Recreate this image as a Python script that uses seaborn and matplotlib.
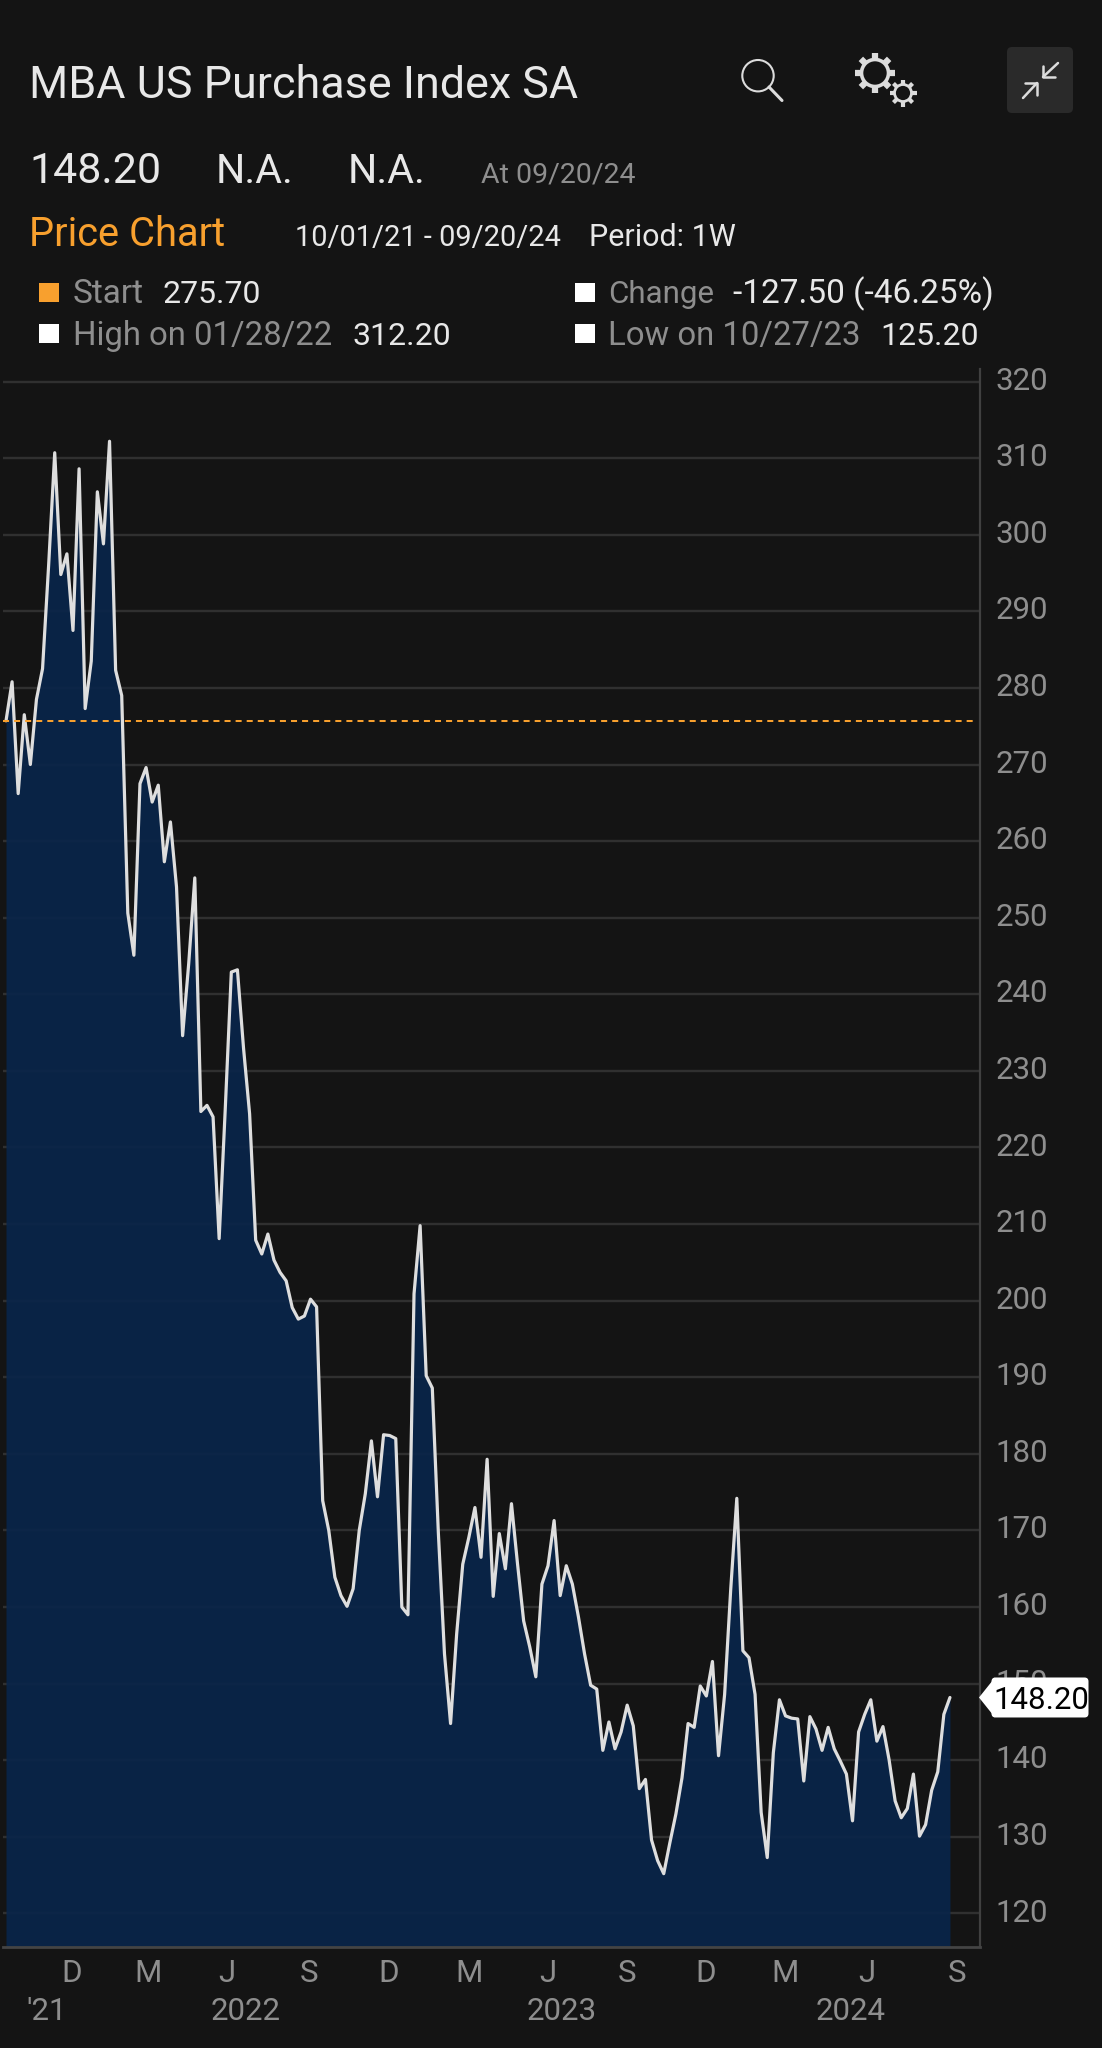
import numpy as np
import pandas as pd
import matplotlib
matplotlib.use('Agg')
import matplotlib.pyplot as plt
import matplotlib.patches as mpatches
import matplotlib.transforms as mtrans
import seaborn as sns

# weekly readings, 10/01/21 - 09/20/24
start_date = '2021-10-01'
index_values = [
    275.7, 280.8, 266.2, 276.5, 270.0, 278.5, 282.5, 296.0, 310.7, 294.8,
    297.5, 287.5, 308.6, 277.3, 283.5, 305.6, 298.8, 312.2, 282.3, 279.0,
    250.6, 245.1, 267.5, 269.6, 265.1, 267.3, 257.3, 262.5, 254.0, 234.6,
    244.0, 255.2, 224.7, 225.5, 224.0, 208.1, 225.0, 242.9, 243.2, 233.0,
    224.4, 207.9, 206.1, 208.7, 205.3, 203.7, 202.6, 199.1, 197.6, 198.0,
    200.2, 199.2, 173.9, 170.0, 163.9, 161.5, 160.1, 162.4, 170.0, 174.8,
    181.7, 174.4, 182.5, 182.4, 182.0, 160.0, 159.0, 200.9, 209.8, 190.2,
    188.6, 169.6, 153.9, 144.8, 156.5, 165.6, 169.1, 173.0, 166.5, 179.3,
    161.4, 169.6, 165.0, 173.5, 165.6, 158.2, 154.8, 150.9, 163.0, 165.4,
    171.3, 161.5, 165.4, 163.0, 158.7, 153.9, 149.8, 149.3, 141.3, 145.0,
    141.5, 143.7, 147.2, 144.5, 136.3, 137.5, 129.6, 126.9, 125.2, 129.2,
    133.0, 137.7, 144.8, 144.3, 149.7, 148.4, 152.9, 140.6, 148.6, 162.3,
    174.2, 154.3, 153.4, 148.6, 133.2, 127.3, 141.0, 147.9, 145.8, 145.5,
    145.4, 137.3, 145.7, 144.1, 141.3, 144.3, 141.5, 139.9, 138.2, 132.1,
    143.7, 146.0, 147.9, 142.5, 144.4, 140.1, 134.7, 132.5, 133.7, 138.2,
    130.1, 131.6, 136.1, 138.5, 146.0, 148.2,
]
start_value = 275.7

y_ticks = list(range(120, 330, 10))
month_labels = ['D', 'M', 'J', 'S', 'D', 'M', 'J', 'S', 'D', 'M', 'J', 'S']
month_dates = ['2021-12-16', '2022-03-13', '2022-06-12', '2022-09-14',
               '2022-12-15', '2023-03-17', '2023-06-16', '2023-09-15',
               '2023-12-14', '2024-03-14', '2024-06-17', '2024-09-28']
year_labels = ["'21", '2022', '2023', '2024']
year_dates = ['2021-11-17', '2022-07-04', '2023-07-02', '2024-05-29']

BG = '#141414'
GREY = '#8e8e8e'
WHITE = '#e8e8e8'
ORANGE = '#f8a02e'
W, H = 1102, 2048

sns.set_theme(style='dark', rc={'axes.facecolor': BG, 'figure.facecolor': BG})
plt.rcParams['font.family'] = ['Roboto', 'DejaVu Sans']

dates = pd.date_range(start_date, periods=len(index_values), freq='W-FRI')
df = pd.DataFrame({'date': dates, 'value': index_values})

fig = plt.figure(figsize=(W / 100, H / 100), dpi=100, facecolor=BG)
left, right, top, bottom = 3, 980, 369, 1947
ax = fig.add_axes([left / W, 1 - bottom / H, (right - left) / W, (bottom - top) / H])

# axis limits worked out from the pixel spacing of the weekly points
px_per_day = 6.09 / 7
t0 = dates[0]
ax.set_xlim(t0 - pd.Timedelta(days=3 / px_per_day), t0 + pd.Timedelta(days=974 / px_per_day))
px_per_unit = 7.66
ax.set_ylim(320 - (bottom - 381.5) / px_per_unit, 320 + (381.5 - top) / px_per_unit)

ax.grid(axis='y', color='#303030', linewidth=1.7, zorder=1)
ax.set_axisbelow(True)
ax.fill_between(df['date'], df['value'], ax.get_ylim()[0], color='#09254a', alpha=0.92, linewidth=0, zorder=2)
sns.lineplot(data=df, x='date', y='value', ax=ax, color='#dedede', linewidth=2.3, zorder=3)
ax.axhline(start_value, xmax=0.993, color=ORANGE, linewidth=1.45, linestyle=(0, (3, 2.5)), zorder=4)

ax.set_xlabel('')
ax.set_ylabel('')
ax.yaxis.tick_right()
ax.set_yticks(y_ticks)
ax.tick_params(axis='y', length=0, pad=11, labelsize=22.5, labelcolor=GREY)
ax.set_xticks(pd.to_datetime(month_dates))
ax.set_xticklabels(month_labels)
ax.set_xticks(pd.to_datetime(year_dates), minor=True)
ax.set_xticklabels(year_labels, minor=True)
ax.tick_params(axis='x', which='major', length=0, pad=9, labelsize=22.5, labelcolor=GREY)
ax.tick_params(axis='x', which='minor', length=0, pad=36, labelsize=22.5, labelcolor=GREY)

# y labels sit a little above their gridlines
nudge = mtrans.ScaledTranslation(0, 3.5 / 100, fig.dpi_scale_trans)
for t in ax.get_yticklabels():
    t.set_transform(t.get_transform() + nudge)

for s in ['top', 'left']:
    ax.spines[s].set_visible(False)
ax.spines['right'].set_color('#404040')
ax.spines['right'].set_linewidth(1.6)
ax.spines['bottom'].set_color('#444444')
ax.spines['bottom'].set_linewidth(2)

# header and icons sit on a pixel-coordinate overlay
ui = fig.add_axes([0, 0, 1, 1], facecolor='none')
ui.set_xlim(0, W)
ui.set_ylim(H, 0)
ui.axis('off')


def label(x, y, s, size, color=WHITE):
    ui.text(x, y, s, fontsize=size, color=color, ha='left', va='baseline')


label(29, 98, 'MBA US Purchase Index SA', 32.3)
label(29, 183, '148.20', 31)
label(216, 183, 'N.A.', 29.5)
label(348, 183, 'N.A.', 29.5)
label(481, 183, 'At 09/20/24', 20.5, GREY)
label(29, 246, 'Price Chart', 28.7, ORANGE)
label(295, 246, '10/01/21 - 09/20/24', 20.9)
label(589, 246, 'Period: 1W', 22)

label(73, 303, 'Start', 24, GREY)
label(163, 303, '275.70', 23)
label(73, 345, 'High on 01/28/22', 23.7, GREY)
label(352, 345, '312.20', 23)
label(608, 303, 'Change', 22.5, GREY)
label(733, 303, '-127.50 (-46.25%)', 24)
label(608, 345, 'Low on 10/27/23', 23.7, GREY)
label(880, 345, '125.20', 23)

for x, y, c in [(39, 283, ORANGE), (39, 324, 'white'), (575, 283, 'white'), (575, 324, 'white')]:
    ui.add_patch(mpatches.Rectangle((x, y), 20, 19, color=c, linewidth=0))

# search icon
ICON = '#dcdcdc'
ui.add_patch(mpatches.Circle((758, 75.7), 15.7, fill=False, edgecolor=ICON, linewidth=1.5))
ui.plot([769, 782], [87, 100.5], color=ICON, linewidth=2.2, solid_capstyle='round')

# gears
for cx, cy, r, tooth, lw, tlw in [(875, 73, 13.5, 20, 2.6, 4.5), (903, 93, 8.5, 13.5, 2.0, 3)]:
    ui.add_patch(mpatches.Circle((cx, cy), r, fill=False, edgecolor=ICON, linewidth=lw))
    for a in np.arange(8) * np.pi / 4:
        ui.plot([cx + r * np.cos(a), cx + tooth * np.cos(a)],
                [cy + r * np.sin(a), cy + tooth * np.sin(a)],
                color=ICON, linewidth=tlw, solid_capstyle='butt')

# collapse button
ui.add_patch(mpatches.FancyBboxPatch((1010, 50), 60, 60, boxstyle='round,pad=3,rounding_size=5',
                                     facecolor='#2a2a2a', edgecolor='none'))
ui.plot([1058, 1043], [63, 77], color=ICON, linewidth=1.8)
ui.plot([1043, 1043, 1055], [66, 77, 77], color=ICON, linewidth=1.8)
ui.plot([1023, 1037], [98, 83], color=ICON, linewidth=1.8)
ui.plot([1025, 1037, 1037], [83, 83, 95], color=ICON, linewidth=1.8)

# last value tag, placed from the data scale
tag_y = H - ax.transData.transform((0, index_values[-1]))[1]
ui.add_patch(mpatches.FancyBboxPatch((993, tag_y - 18.5), 94, 37, boxstyle='round,pad=1.5,rounding_size=4',
                                     facecolor='white', edgecolor='none', zorder=5))
ui.add_patch(mpatches.Polygon([(979, tag_y), (995, tag_y - 20), (995, tag_y + 20)],
                              facecolor='white', edgecolor='none', zorder=5))
ui.text(993, tag_y, f'{index_values[-1]:.2f}', fontsize=22.5, color='black', ha='left', va='center_baseline', zorder=6)

plt.savefig('out.png', dpi=100, facecolor=BG)
